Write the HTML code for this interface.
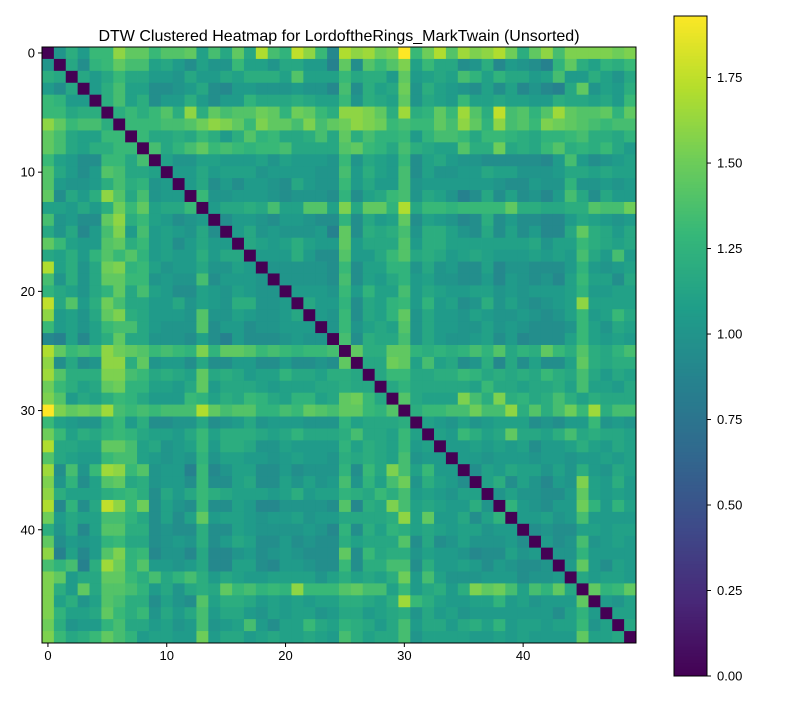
<!DOCTYPE html>
<html><head><meta charset="utf-8">
<style>
body{margin:0;background:#fff;}
svg text{font-family:"Liberation Sans",sans-serif;fill:#000;}
</style></head>
<body>
<svg id="chart" width="800" height="700" xmlns="http://www.w3.org/2000/svg">
<rect width="800" height="700" fill="#fff"/>
<text x="339" y="41" font-size="16" text-anchor="middle">DTW Clustered Heatmap for LordoftheRings_MarkTwain (Unsorted)</text>
<g id="cells"></g>
<g id="axes"></g>
<g id="cbar"></g>
</svg>
<script>
// Upper triangle of symmetric distance matrix: upperRows[i] = values for columns j>i
const upperRows = [
[1.0,1.2,1.05,1.3,1.3,1.6,1.45,1.45,1.3,1.4,1.4,1.45,1.1,1.35,1.15,1.45,1.15,1.7,1.35,1.25,1.75,1.6,1.3,0.9, 1.7,1.6,1.65,1.5,1.55,1.93,1.3,1.5,1.7,1.4,1.65,1.55,1.6,1.7,1.5,1.2,1.45,1.6,1.35,1.55,1.55,1.55,1.55,1.5,1.55],
[1.15,0.95,1.25,1.3,1.45,1.35,1.35,1.1,1.15,1.05,0.95,1.1,1.0,1.0,1.3,1.1,1.1,1.0,1.15,1.15,1.05,1.05,0.85, 1.45,0.95,1.4,1.3,1.4,1.55,1.1,1.3,1.15,1.15,0.95,1.0,1.2,0.9,1.05,1.0,0.95,0.85,1.25,1.45,1.2,1.1,1.25,1.2,1.3],
[1.15,1.05,1.15,1.3,1.15,1.15,1.05,1.05,1.0,1.15,1.05,1.05,1.15,1.1,1.2,1.2,1.2,1.1,1.4,1.1,1.1,1.1, 1.3,1.15,1.2,1.2,1.05,1.45,1.05,1.1,1.15,1.1,1.35,1.25,1.1,1.25,1.15,1.15,1.05,1.1,1.35,1.05,1.05,1.2,1.1,1.0,1.15],
[1.05,1.2,1.35,1.1,1.1,0.95,0.95,1.0,1.05,1.15,0.95,0.9,1.05,1.05,1.0,1.0,1.0,1.05,1.0,1.0,0.9, 1.35,0.95,1.2,1.1,1.15,1.5,1.0,1.2,1.1,1.05,1.0,0.95,1.1,0.95,1.1,0.9,1.0,0.9,0.85,1.15,1.45,1.0,1.1,1.05,1.2],
[1.2,1.35,1.1,1.2,0.95,1.05,1.05,1.2,1.05,0.95,1.05,1.05,1.25,1.15,1.15,1.15,1.2,1.15,1.1,1.1, 1.3,1.0,1.2,1.15,1.1,1.45,1.0,1.15,1.1,1.05,1.3,1.1,1.1,1.15,1.1,1.1,1.05,1.05,1.2,1.15,1.15,1.1,1.15,1.05,1.3],
[1.2,1.3,1.2,1.3,1.4,1.2,1.6,1.2,1.45,1.35,1.4,1.4,1.5,1.45,1.25,1.5,1.45,1.3,1.2, 1.6,1.6,1.55,1.45,1.2,1.65,1.2,1.25,1.45,1.3,1.65,1.4,1.2,1.75,1.35,1.4,1.25,1.4,1.65,1.45,1.4,1.4,1.45,1.25,1.45],
[1.3,1.3,1.3,1.35,1.35,1.4,1.5,1.6,1.55,1.45,1.3,1.55,1.45,1.45,1.35,1.55,1.35,1.45, 1.5,1.6,1.55,1.5,1.3,1.35,1.3,1.3,1.45,1.35,1.6,1.45,1.25,1.6,1.35,1.4,1.3,1.55,1.5,1.45,1.4,1.35,1.3,1.35,1.35],
[1.3,1.15,1.15,1.2,1.15,1.3,1.2,1.05,1.2,1.4,1.25,1.3,1.15,1.15,1.2,1.35,1.15, 1.45,1.2,1.35,1.25,1.25,1.3,1.05,1.25,1.35,1.35,1.3,1.15,1.3,1.3,1.25,1.2,1.15,1.25,1.25,1.3,1.35,1.2,1.2,1.15,1.25],
[1.35,1.15,1.25,1.35,1.45,1.3,1.35,1.3,1.25,1.3,1.3,1.35,1.15,1.15,1.15,1.15, 1.4,1.45,1.3,1.25,1.15,1.35,1.2,1.15,1.1,1.1,1.4,1.2,1.2,1.5,1.15,1.2,1.15,1.3,1.4,1.2,1.25,1.2,1.3,1.15,1.05],
[1.1,1.0,1.0,1.1,1.1,1.05,1.05,1.05,1.1,1.0,1.1,1.05,1.05,1.05,1.0, 1.3,1.0,1.15,1.1,1.05,1.3,0.95,1.1,1.15,1.05,1.0,1.0,0.95,0.95,0.95,0.95,0.95,0.9,1.05,1.35,1.05,0.95,1.0,1.05,1.1],
[1.05,1.05,1.15,1.05,1.1,1.1,1.1,1.0,1.05,1.05,1.05,1.05,1.0,1.0, 1.35,1.05,1.2,1.1,1.05,1.35,0.95,1.1,1.0,1.0,1.05,1.05,1.15,1.1,1.1,1.0,1.0,1.0,1.05,1.15,1.15,1.1,1.15,1.1,1.1],
[1.05,1.15,0.95,1.05,0.95,1.05,1.05,1.0,0.95,1.15,1.05,1.0,1.0, 1.3,1.05,1.15,1.05,1.05,1.35,1.0,1.05,1.05,1.05,1.05,1.05,1.05,1.0,0.95,0.95,1.05,1.0,1.0,1.25,1.0,1.0,1.05,1.0,1.05],
[1.3,1.0,1.0,1.05,1.05,1.05,1.0,0.95,1.0,1.0,1.0,0.95, 1.25,0.95,1.1,1.15,1.3,1.35,1.0,1.15,1.1,1.0,0.85,0.95,1.15,0.95,1.1,0.95,1.0,0.9,1.05,1.35,1.15,0.95,1.15,1.05,1.05],
[1.05,1.15,1.15,1.2,1.15,1.35,1.1,1.1,1.4,1.4,1.1, 1.55,1.15,1.45,1.45,1.25,1.7,1.15,1.3,1.3,1.25,1.3,1.3,1.3,1.3,1.45,1.2,1.2,1.15,1.15,1.2,1.2,1.4,1.35,1.35,1.5],
[0.95,1.05,1.05,1.0,0.95,1.05,1.05,1.0,0.95,0.95, 1.25,0.95,1.15,1.05,1.1,1.45,0.95,1.1,1.05,1.0,0.9,0.95,1.2,0.95,1.05,0.95,0.95,0.9,0.9,1.05,1.15,1.1,1.05,1.0,1.05],
[1.05,1.15,1.0,1.05,1.0,1.0,1.0,1.05,0.85, 1.45,0.95,1.2,1.15,1.2,1.35,1.0,1.2,1.2,1.1,1.0,0.95,1.15,0.95,1.1,0.95,1.05,0.9,0.9,1.15,1.45,1.2,1.15,1.05,1.15],
[1.15,1.1,1.05,1.1,1.2,1.1,1.05,1.05, 1.45,1.05,1.15,1.15,1.15,1.4,1.05,1.2,1.2,1.1,1.1,1.1,1.1,1.1,1.1,1.1,1.15,1.0,1.1,1.1,1.3,1.2,1.15,1.1,1.15],
[1.05,1.05,1.05,1.2,1.05,0.95,0.95, 1.4,1.05,1.05,1.15,1.3,1.4,1.15,1.2,1.15,1.05,1.1,1.15,1.1,1.05,1.05,1.05,1.1,1.05,1.1,1.05,1.35,1.15,1.05,1.35,1.05],
[1.0,1.0,1.0,1.0,1.0,0.95, 1.3,0.95,1.1,1.1,1.25,1.25,1.0,1.15,1.0,1.05,0.95,0.95,1.1,0.9,1.0,1.0,0.95,0.95,0.95,1.05,1.25,1.05,1.0,1.05,1.1],
[1.0,1.0,1.0,1.0,0.95, 1.35,0.95,1.1,1.05,1.15,1.25,1.05,1.1,1.0,1.0,0.95,0.95,1.05,0.9,1.05,1.0,0.95,1.0,0.9,1.1,1.3,1.1,1.1,0.95,1.15],
[1.05,1.05,1.05,1.0, 1.3,1.05,1.25,1.1,1.1,1.35,1.05,1.15,1.1,1.05,1.05,1.1,1.1,1.0,1.05,1.0,1.05,1.05,1.05,1.1,1.25,1.05,1.05,1.1,1.1],
[1.15,1.05,1.05, 1.25,0.95,1.15,1.1,1.25,1.3,1.05,1.25,1.05,1.1,0.95,1.0,1.2,1.0,1.1,1.0,0.95,1.0,1.05,1.1,1.6,1.1,1.1,1.1,1.1],
[1.05,1.0, 1.3,0.95,1.15,1.1,1.25,1.45,1.0,1.15,1.05,1.05,1.0,1.1,1.05,1.0,1.0,1.05,1.0,0.95,1.0,1.1,1.3,1.05,1.1,1.3,1.15],
[1.0, 1.3,1.0,1.1,1.15,1.1,1.4,1.0,1.15,1.05,1.05,1.0,1.0,1.1,1.0,1.05,1.0,0.95,0.95,0.95,1.0,1.3,1.1,1.0,1.15,1.1],
[1.35,0.95,1.2,1.15,1.15,1.35,1.0,1.15,1.05,1.0,1.0,1.05,1.1,0.95,1.05,0.9,0.95,0.95,0.95,1.1,1.3,1.1,1.05,1.1,1.05],
[1.45,1.2,1.2,1.45,1.45,1.25,1.2,1.25,1.2,1.25,1.35,1.25,1.4,1.15,1.25,1.2,1.45,1.3,1.2,1.4,1.2,1.15,1.25,1.35],
[1.15,1.15,1.5,1.45,1.1,1.35,1.1,1.15,0.95,1.0,1.2,0.9,1.15,0.95,1.1,0.95,0.95,1.1,1.45,1.2,1.15,1.2,1.2],
[1.15,1.3,1.3,1.15,1.15,1.2,1.2,1.3,1.25,1.15,1.2,1.15,1.2,1.15,1.3,1.2,1.15,1.35,1.15,1.05,1.15,1.1],
[1.15,1.25,1.15,1.15,1.15,1.15,1.15,1.1,1.3,1.15,1.15,1.1,1.15,1.15,1.2,1.1,1.35,1.1,1.1,1.05,1.15],
[1.4,1.15,1.1,1.1,1.1,1.55,1.35,1.2,1.55,1.2,1.25,1.15,1.2,1.35,1.2,1.1,1.2,1.15,1.15,1.15],
[1.2,1.3,1.3,1.35,1.35,1.5,1.35,1.35,1.6,1.2,1.4,1.2,1.35,1.5,1.3,1.65,1.2,1.35,1.35],
[1.1,1.05,1.0,1.1,1.0,1.05,1.1,1.1,1.1,0.95,1.0,0.95,1.05,1.05,1.3,1.0,1.05,1.0],
[1.1,1.05,1.3,1.2,1.1,1.15,1.45,1.15,1.15,1.1,1.2,1.35,1.15,1.2,1.15,1.15,1.1],
[1.05,1.05,1.1,1.05,1.1,1.05,1.1,0.95,1.05,1.05,1.1,1.2,1.1,1.05,1.15,1.1],
[1.05,1.05,1.0,1.05,1.05,1.05,1.0,1.05,1.05,1.0,1.05,1.05,1.1,1.05,1.1],
[0.95,1.1,1.05,1.15,1.1,1.1,1.0,1.1,1.0,1.2,1.05,1.0,1.15,1.1],
[1.1,1.2,0.95,1.1,1.0,0.9,1.05,1.0,1.55,1.1,1.05,1.2,1.05],
[1.0,1.1,1.0,1.0,0.95,0.95,1.05,1.45,1.1,1.05,1.1,1.05],
[1.25,1.05,1.0,0.95,1.05,1.05,1.5,1.25,1.05,1.25,1.1],
[1.05,1.05,1.1,1.0,1.05,1.35,1.05,1.05,1.05,1.05],
[0.95,1.0,0.95,0.95,1.1,1.1,1.05,1.1,1.1],
[1.05,0.95,1.0,1.35,1.0,1.05,1.1,1.05],
[1.0,1.0,1.25,1.05,1.05,1.05,1.05],
[1.05,1.45,1.05,0.95,1.1,1.05],
[1.15,1.05,1.1,1.1,1.05],
[1.45,1.25,1.3,1.45],
[1.05,1.0,1.1],
[1.1,1.1],
[1.15],
[]
];
const xTickLabels = ["0","10","20","30","40"];
const yTickLabels = ["0","10","20","30","40"];
const cbarTickLabels = ["0.00","0.25","0.50","0.75","1.00","1.25","1.50","1.75"];

const N = upperRows.length;
const NS = "http://www.w3.org/2000/svg";
const M = [];
for (let i=0;i<N;i++){M.push(new Array(N).fill(0));}
for (let i=0;i<N;i++){for(let k=0;k<upperRows[i].length;k++){const j=i+1+k; if(j<N){M[i][j]=upperRows[i][k];M[j][i]=upperRows[i][k];}}}
let vmax=0; for(const r of M) for(const v of r) if(v>vmax) vmax=v;
const vmin=0;

const VIR=[[68,1,84],[72,40,120],[62,74,137],[49,104,142],[38,130,142],[31,158,137],[53,183,121],[109,205,89],[180,222,44],[253,231,37]];
function viridis(t){t=Math.max(0,Math.min(1,t));const p=t*(VIR.length-1);const i=Math.min(VIR.length-2,Math.floor(p));const f=p-i;const a=VIR[i],b=VIR[i+1];return `rgb(${Math.round(a[0]+(b[0]-a[0])*f)},${Math.round(a[1]+(b[1]-a[1])*f)},${Math.round(a[2]+(b[2]-a[2])*f)})`;}

const X0=42,X1=636,Y0=47,Y1=643;
const cw=(X1-X0)/N, ch=(Y1-Y0)/N;
const xScale=c=>X0+c*cw, yScale=r=>Y0+r*ch;
function el(tag,attrs,parent){const e=document.createElementNS(NS,tag);for(const k in attrs)e.setAttribute(k,attrs[k]);parent.appendChild(e);return e;}

const cells=document.getElementById('cells');
for(let i=0;i<N;i++)for(let j=0;j<N;j++){
  const r=el('rect',{x:xScale(j),y:yScale(i),width:cw+0.4,height:ch+0.4,fill:viridis((M[i][j]-vmin)/(vmax-vmin))},cells);
  
  
}
const axes=document.getElementById('axes');
const frame=el('rect',{x:X0,y:Y0,width:X1-X0,height:Y1-Y0,fill:'none',stroke:'#000','stroke-width':1},axes);


xTickLabels.forEach(l=>{const v=+l;const x=xScale(v+0.5);
  el('line',{x1:x,y1:Y1,x2:x,y2:Y1+4,stroke:'#000'},axes);
  const t=el('text',{x:x,y:Y1+17,'font-size':13,'text-anchor':'middle'},axes);t.textContent=l;
  
  
});
yTickLabels.forEach(l=>{const v=+l;const y=yScale(v+0.5);
  el('line',{x1:X0,y1:y,x2:X0-4,y2:y,stroke:'#000'},axes);
  const t=el('text',{x:X0-7,y:y+4.5,'font-size':13,'text-anchor':'end'},axes);t.textContent=l;
  
  
});
// colorbar
const cb=document.getElementById('cbar');
const CX0=674,CX1=707,CY0=16,CY1=676;
const cy=v=>CY1-(v-vmin)/(vmax-vmin)*(CY1-CY0);
const steps=200;
for(let s=0;s<steps;s++){const v0=vmin+(vmax-vmin)*s/steps;const v1=vmin+(vmax-vmin)*(s+1)/steps;
  el('rect',{x:CX0,y:cy(v1),width:CX1-CX0,height:cy(v0)-cy(v1)+0.5,fill:viridis((v0-vmin)/(vmax-vmin))},cb);}
const cf=el('rect',{x:CX0,y:CY0,width:CX1-CX0,height:CY1-CY0,fill:'none',stroke:'#000'},cb);


cbarTickLabels.forEach(l=>{const v=+l;const y=cy(v);
  el('line',{x1:CX1,y1:y,x2:CX1+4,y2:y,stroke:'#000'},cb);
  const t=el('text',{x:CX1+10,y:y+4.5,'font-size':13},cb);t.textContent=l;
  
  
});
</script>
</body></html>
